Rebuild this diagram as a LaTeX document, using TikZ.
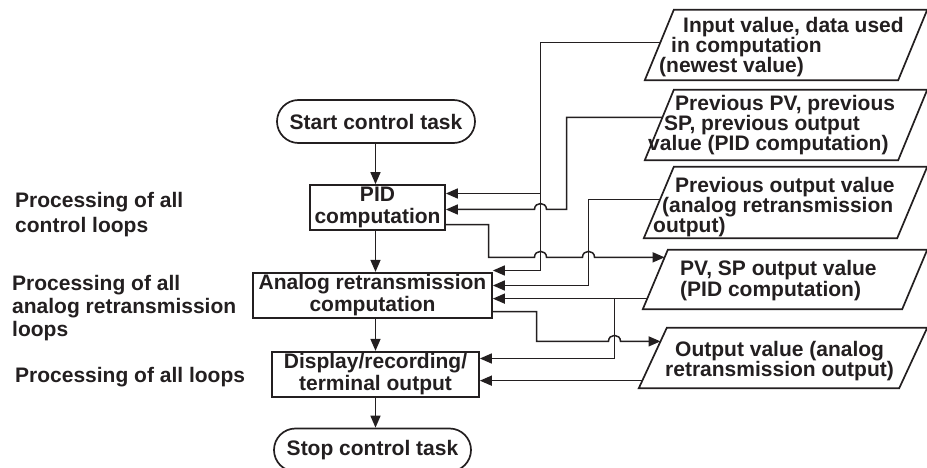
\documentclass[tikz,border=0pt]{standalone}
\usepackage{fontspec}
\setmainfont{Liberation Sans}
\usetikzlibrary{arrows.meta,calc,shapes.misc}
\definecolor{ink}{RGB}{35,31,32}
\newcommand\drawpgram[2]{%
  \draw[outline] (#1.south west) -- ([xshift=#2]#1.north west) -- (#1.north east)
    -- ([xshift=-#2]#1.south east) -- cycle;}
\begin{document}
\begin{tikzpicture}[x=1pt,y=-1pt,
  every node/.style={font=\bfseries\fontsize{21}{22}\selectfont, text=ink},
  outline/.style={draw=ink, line width=1.7pt, line join=miter},
  box/.style={outline, rectangle, minimum height=45pt, inner sep=2pt, align=center},
  term/.style={outline, rounded rectangle, minimum height=43pt, inner sep=2pt},
  pframe/.style={rectangle, inner sep=0pt},
  ptext/.style={anchor=west, align=left, inner sep=0pt, font=\bfseries\fontsize{21}{20}\selectfont},
  side/.style={anchor=west, align=left, inner sep=0pt},
  conn/.style={draw=ink, line width=1.5pt},
  arr/.style={conn, -{Triangle[length=12pt,width=10pt]}},
]
\useasboundingbox (0,0) rectangle (927,468);

% flowchart boxes
\node[term, minimum width=202pt] (st) at (376,121.5) {Start control task};
\node[box, minimum width=135pt] (pid) at (377.5,207.5) {PID\\computation};
\node[box, minimum width=239pt] (an) at (372.5,295.5) {Analog retransmission\\computation};
\node[box, minimum width=207pt] (dp) at (375.5,374.5) {Display/recording/\\terminal output};
\node[term, minimum width=201pt] (sp) at (372.5,450) {Stop control task};

% side labels
\node[side] (l1) at (15,214.2) {Processing of all\\[3pt]control loops};
\node[side] (l2) at (12,307.7) {Processing of all\\[1pt]analog retransmission\\[1pt]loops};
\node[side] (l3) at (15,376.7) {Processing of all loops};

% data parallelograms (frame nodes, outline drawn as slanted quadrilateral)
\node[pframe, minimum width=282pt, minimum height=70pt] (p1) at (786,45) {};
\node[pframe, minimum width=282pt, minimum height=70pt] (p2) at (786,125) {};
\node[pframe, minimum width=283pt, minimum height=71pt] (p3) at (785.5,202.5) {};
\node[pframe, minimum width=284pt, minimum height=59pt] (p4) at (785,279.5) {};
\node[pframe, minimum width=288pt, minimum height=60pt] (p5) at (783,358) {};
\drawpgram{p1}{29pt}
\drawpgram{p2}{29pt}
\drawpgram{p3}{30pt}
\drawpgram{p4}{25pt}
\drawpgram{p5}{28pt}

\node[ptext] (t1) at (659,46.7) {\hspace*{24pt}Input value, data used\\\hspace*{12pt}in computation\\(newest value)};
\node[ptext] (t2) at (648,124.7) {\hspace*{27pt}Previous PV, previous\\\hspace*{16pt}SP, previous output\\value (PID computation)};
\node[ptext] (t3) at (653,206.7) {\hspace*{22pt}Previous output value\\\hspace*{9pt}(analog retransmission\\output)};
\node[ptext, font=\bfseries\fontsize{21}{21}\selectfont] (t4) at (680,280.2) {PV, SP output value\\(PID computation)};
\node[ptext] (t5) at (665,360.7) {\hspace*{10pt}Output value (analog\\retransmission output)};

% bus positions and attachment points
\coordinate (spine) at (375.5,0);
\coordinate (busA) at (540.5,0);
\coordinate (busB) at (566.5,0);
\coordinate (busC) at (488.5,0);
\coordinate (busD) at (588.5,0);
\coordinate (busE) at (614.5,0);
\coordinate (busF) at (536.5,0);

\coordinate (p1a) at ($(p1.south west)!0.536!([xshift=29pt]p1.north west)$);
\coordinate (p2a) at ($(p2.south west)!0.607!([xshift=29pt]p2.north west)$);
\coordinate (p3a) at ($(p3.south west)!0.542!([xshift=30pt]p3.north west)$);
\coordinate (p4a) at ($(p4.south west)!0.873!([xshift=25pt]p4.north west)$);
\coordinate (p4b) at ($(p4.south west)!0.178!([xshift=25pt]p4.north west)$);
\coordinate (p5a) at ($(p5.south west)!0.775!([xshift=28pt]p5.north west)$);
\coordinate (p5b) at ($(p5.south west)!0.125!([xshift=28pt]p5.north west)$);

\coordinate (pidA) at ([yshift=14pt]pid.east);
\coordinate (pidB) at ([yshift=-2pt]pid.east);
\coordinate (pidC) at ([yshift=-17pt]pid.east);
\coordinate (anA) at ([yshift=25pt]an.east);
\coordinate (anB) at ([yshift=10pt]an.east);
\coordinate (anD) at ([yshift=-16pt]an.east);
\coordinate (dpA) at ([yshift=16pt]dp.east);

% main flow
\draw[arr] (spine |- st.south) -- (spine |- pid.north);
\draw[arr] (spine |- pid.south) -- (spine |- an.north);
\draw[arr] (spine |- an.south) -- (spine |- dp.north);
\draw[arr] (spine |- dp.south) -- (spine |- sp.north);

% input value line
\draw[arr] (p1a) -| (anA -| busA) -- (anA);
\draw[arr] (pidA -| busA) -- (pidA);
% previous PV/SP line
\draw[arr] (p2a) -| (pidB -| busB) -- ($(pidB -| busA)+(6,0)$)
  .. controls +(0,-8) and +(0,-8) .. ($(pidB -| busA)+(-6,0)$) -- (pidB);
% PID output to PV,SP
\draw[arr] (pidC) -| (p4a -| busC) -- ($(p4a -| busA)+(-6,0)$)
  .. controls +(0,-8) and +(0,-8) .. ($(p4a -| busA)+(6,0)$)
  -- ($(p4a -| busD)+(-6,0)$)
  .. controls +(0,-8) and +(0,-8) .. ($(p4a -| busD)+(6,0)$) -- (p4a);
% previous output value
\draw[arr] (p3a) -| (anB -| busD) -- (anB);
% PV,SP output value
\draw[arr] (p4b) -- (p4b -| an.east);
\draw[arr] (p4b -| busE) |- (dpA);
% analog output
\draw[arr] (anD) -| (p5a -| busF) -- ($(p5a -| busE)+(-6,0)$)
  .. controls +(0,-8) and +(0,-8) .. ($(p5a -| busE)+(6,0)$) -- (p5a);
% output value to display
\draw[arr] (p5b) -- (p5b -| dp.east);
\end{tikzpicture}
\end{document}
